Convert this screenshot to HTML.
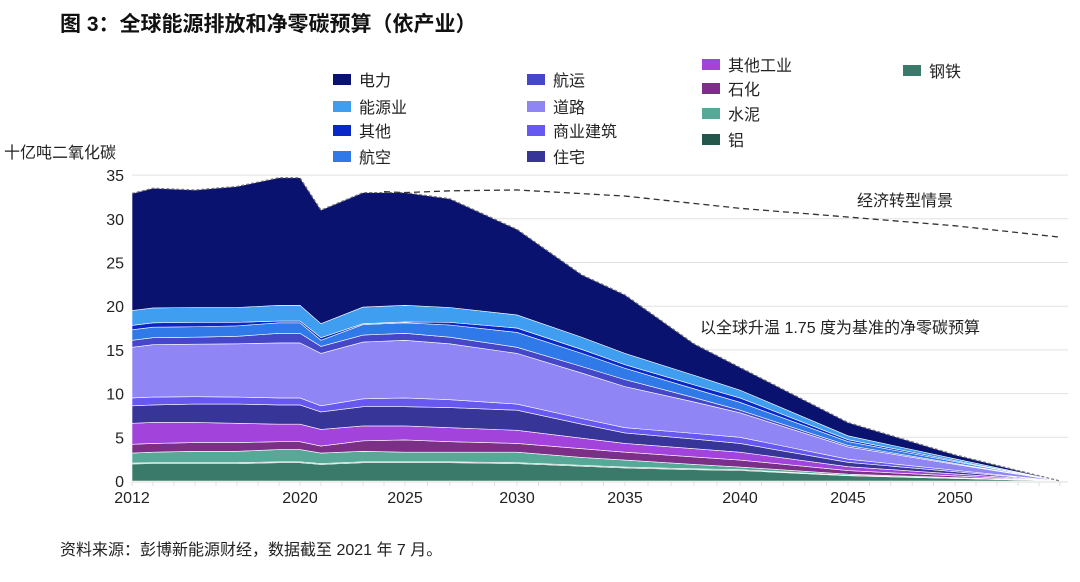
<!DOCTYPE html>
<html><head><meta charset="utf-8">
<style>
body{margin:0;background:#fff;width:1080px;height:577px;overflow:hidden;font-family:"Liberation Sans","Noto Sans CJK SC",sans-serif;}
svg text{font-family:"Liberation Sans","Noto Sans CJK SC",sans-serif;}
</style></head><body>
<svg id="chart" width="1080" height="577">
<text x="60" y="31" font-size="21" font-weight="bold" fill="#111">图 3：全球能源排放和净零碳预算（依产业）</text>
<text x="4" y="158" font-size="16" fill="#222">十亿吨二氧化碳</text>
<g id="grid"></g><g id="areas"></g><g id="lines"></g><g id="axes"></g><g id="legend"></g>
<text x="857" y="206" font-size="16" fill="#222">经济转型情景</text>
<text x="700" y="333" font-size="16" fill="#222">以全球升温 1.75 度为基准的净零碳预算</text>
<text x="60" y="555" font-size="16" fill="#222">资料来源：彭博新能源财经，数据截至 2021 年 7 月。</text>
</svg>
<script>
const years=[2012,2013,2015,2017,2019,2020,2021,2023,2025,2027,2030,2033,2035,2038,2040,2045,2050,2055];
const steel=[1.95,2.0,2.0,2.0,2.1,2.1,1.9,2.1,2.1,2.1,2.0,1.7,1.5,1.3,1.2,0.6,0.29,0];
const aluminium=[0.1,0.1,0.1,0.1,0.1,0.1,0.1,0.1,0.1,0.1,0.1,0.1,0.1,0.1,0.1,0.05,0.02,0];
const cement=[1.15,1.2,1.3,1.3,1.4,1.4,1.2,1.2,1.1,1.1,1.2,0.9,0.8,0.5,0.3,0.13,0.08,0];
const petchem=[1.0,1.0,1.0,1.0,0.9,0.9,0.8,1.2,1.4,1.2,1.0,1.0,0.9,0.85,0.8,0.41,0.19,0];
const otherIndustry=[2.4,2.4,2.3,2.2,2.0,2.0,1.9,1.7,1.6,1.6,1.5,1.2,1.0,0.95,0.9,0.45,0.23,0];
const residential=[2.0,2.0,2.1,2.2,2.2,2.2,2.0,2.2,2.2,2.3,2.3,1.6,1.2,1.1,1.0,0.5,0.25,0];
const commercial=[0.9,0.9,0.85,0.8,0.8,0.8,0.7,0.9,1.0,0.9,0.7,0.65,0.6,0.65,0.7,0.36,0.17,0];
const road=[5.8,6.0,6.0,6.1,6.3,6.3,6.0,6.5,6.6,6.4,5.8,5.2,4.7,3.6,2.8,1.4,0.68,0];
const shipping=[0.8,0.8,0.8,0.85,1.1,1.1,0.8,0.8,0.8,0.75,0.7,0.75,0.8,0.5,0.3,0.17,0.1,0];
const aviation=[1.2,1.2,1.2,1.2,1.2,1.2,0.7,1.2,1.2,1.4,1.7,1.5,1.3,1.0,0.9,0.44,0.21,0];
const otherSector=[0.5,0.5,0.5,0.4,0.2,0.2,0.3,0.1,0.1,0.3,0.5,0.45,0.4,0.45,0.5,0.22,0.11,0];
const energy=[1.7,1.7,1.7,1.7,1.8,1.8,1.6,1.9,1.9,1.7,1.5,1.4,1.3,1.1,0.9,0.44,0.21,0];
const power=[13.4,13.7,13.45,13.85,14.6,14.6,13.0,13.1,12.9,12.45,9.8,7.15,6.7,3.6,2.6,1.53,0.46,0];
const scenarioYears=[2024,2025,2027,2030,2035,2040,2045,2050,2055];
const scenarioValues=[33.1,33.0,33.2,33.3,32.6,31.2,30.2,29.2,27.9];
const yTicks=[0,5,10,15,20,25,30,35];
const xTickLabels=[2012,2020,2025,2030,2035,2040,2045,2050];

// x-scale anchors (scale definition, not data)
const xAnchorYears=[2012,2020,2025,2030,2035,2040,2045,2050,2055];
const xAnchorPx=[132,300,405,517,625,740,848,955,1060];
const Y0=481,PPU=8.74;
function xs(y){
 for(let i=0;i<xAnchorYears.length-1;i++){
  if(y<=xAnchorYears[i+1]){const a=xAnchorYears[i],b=xAnchorYears[i+1];return xAnchorPx[i]+(y-a)/(b-a)*(xAnchorPx[i+1]-xAnchorPx[i]);}
 }
 return xAnchorPx[xAnchorPx.length-1];
}
function ys(v){return Y0-v*PPU;}
const NS="http://www.w3.org/2000/svg";
function mk(tag,parent){const e=document.createElementNS(NS,tag);parent.appendChild(e);return e;}

const series=[
 {n:'钢铁',d:steel,c:'#3a7a6a',k:'steel'},
 {n:'铝',d:aluminium,c:'#24574b',k:'aluminium'},
 {n:'水泥',d:cement,c:'#58a898',k:'cement'},
 {n:'石化',d:petchem,c:'#7b2f86',k:'petchem'},
 {n:'其他工业',d:otherIndustry,c:'#a244dc',k:'other-industry'},
 {n:'住宅',d:residential,c:'#383598',k:'residential'},
 {n:'商业建筑',d:commercial,c:'#6658f0',k:'commercial'},
 {n:'道路',d:road,c:'#8f85f5',k:'road'},
 {n:'航运',d:shipping,c:'#4646c8',k:'shipping'},
 {n:'航空',d:aviation,c:'#2f7ae8',k:'aviation'},
 {n:'其他',d:otherSector,c:'#0a28c8',k:'other'},
 {n:'能源业',d:energy,c:'#3f9ef0',k:'energy'},
 {n:'电力',d:power,c:'#0a1270',k:'power'}
];
const grid=document.getElementById('grid');
yTicks.forEach(t=>{
 if(t>0){const l=mk('line',grid);l.setAttribute('x1',132);l.setAttribute('x2',1068);l.setAttribute('y1',ys(t));l.setAttribute('y2',ys(t));l.setAttribute('stroke','#e2e2e2');
 
 }
 const tx=mk('text',grid);tx.setAttribute('x',124);tx.setAttribute('y',ys(t)+6);tx.setAttribute('text-anchor','end');tx.setAttribute('font-size','16');tx.setAttribute('fill','#222');tx.textContent=t;
 
 
});
const areas=document.getElementById('areas');
let base=years.map(()=>0);
series.forEach(s=>{
 const top=base.map((b,i)=>b+s.d[i]);
 let p='M'+years.map((y,i)=>xs(y)+','+ys(top[i])).join(' L');
 for(let i=years.length-1;i>=0;i--)p+=' L'+xs(years[i])+','+ys(base[i]);
 const path=mk('path',areas);path.setAttribute('d',p+'Z');path.setAttribute('fill',s.c);path.setAttribute('stroke','#fff');path.setAttribute('stroke-width','0.6');
 
 
 base=top;
});
const lines=document.getElementById('lines');
const tl=mk('path',lines);tl.setAttribute('d','M'+years.map((y,i)=>xs(y)+','+ys(base[i])).join(' L'));tl.setAttribute('fill','none');tl.setAttribute('stroke','#777');tl.setAttribute('stroke-width','1.2');tl.setAttribute('stroke-dasharray','3,2');


const sl=mk('path',lines);sl.setAttribute('d','M'+scenarioYears.map((y,i)=>xs(y)+','+ys(scenarioValues[i])).join(' L'));sl.setAttribute('fill','none');sl.setAttribute('stroke','#333');sl.setAttribute('stroke-width','1.3');sl.setAttribute('stroke-dasharray','6,4');


const axes=document.getElementById('axes');
const ax=mk('line',axes);ax.setAttribute('x1',132);ax.setAttribute('x2',1068);ax.setAttribute('y1',Y0+1);ax.setAttribute('y2',Y0+1);ax.setAttribute('stroke','#ddd');


for(let y=2012;y<=2055;y++){const t=mk('line',axes);t.setAttribute('x1',xs(y));t.setAttribute('x2',xs(y));t.setAttribute('y1',Y0+1);t.setAttribute('y2',Y0+5);t.setAttribute('stroke','#ddd');
 
 }
xTickLabels.forEach(y=>{const t=mk('text',axes);t.setAttribute('x',xs(y));t.setAttribute('y',503);t.setAttribute('text-anchor','middle');t.setAttribute('font-size','16');t.setAttribute('fill','#222');t.textContent=y;
 
 });
const legendPos={'电力':[333,80],'能源业':[333,107],'其他':[333,131],'航空':[333,157],'航运':[527,80],'道路':[527,107],'商业建筑':[527,131],'住宅':[527,157],'其他工业':[702,65],'石化':[702,89],'水泥':[702,114],'铝':[702,140],'钢铁':[903,71]};
const lg=document.getElementById('legend');
series.forEach(s=>{const p=legendPos[s.n];const g=mk('g',lg);
 
 
 const r=mk('rect',g);r.setAttribute('x',p[0]);r.setAttribute('y',p[1]-6);r.setAttribute('width',18);r.setAttribute('height',11);r.setAttribute('fill',s.c);
 const t=mk('text',g);t.setAttribute('x',p[0]+26);t.setAttribute('y',p[1]+6);t.setAttribute('font-size','16');t.setAttribute('fill','#222');t.textContent=s.n;});
</script>
</body></html>
